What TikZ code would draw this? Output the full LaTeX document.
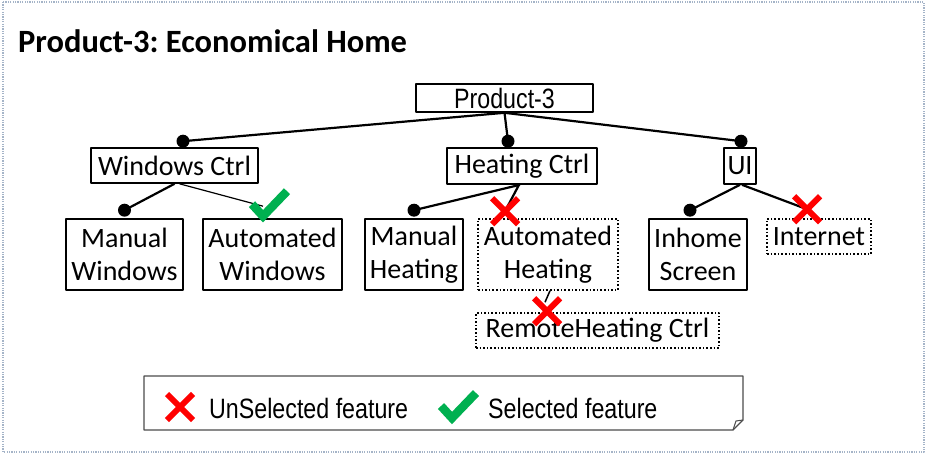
\documentclass[tikz,border=0pt]{standalone}
\usepackage{fontspec}
\setmainfont{Carlito}
\newfontfamily\narrowsf[FakeStretch=0.83]{Liberation Sans}
\frenchspacing
\definecolor{selgreen}{RGB}{0,176,80}
\definecolor{framegray}{RGB}{165,180,200}
\tikzset{
	feat/.style={draw, line width=1.6pt, inner sep=0pt, align=center, font=\fontsize{28}{33}\selectfont},
	optfeat/.style={feat, dotted, line width=1.5pt},
	edge/.style={line width=2.2pt},
	crossmark/.pic={\draw[red, line width=6pt] (-13,-13)--(13,13) (-13,13)--(13,-13);},
	checkmark/.pic={\draw[selgreen, line width=8.5pt, line join=miter] (-11,-12)--(0,0)--(24,-25);}
}
\begin{document}
\begin{tikzpicture}[x=1pt, y=-1pt, line join=round]
		\useasboundingbox (0,0) rectangle (936,454);
		\draw[framegray, line width=1.2pt, dash pattern=on 1.2pt off 1.2pt] (3,2) rectangle (924,452);
		\node[anchor=base west, inner sep=0pt, font=\fontsize{32.5}{38}\bfseries] (title) at (18,53) {Product-3: Economical Home};
		% features
		\node[feat, minimum width=177pt, minimum height=28pt, font=\fontsize{28}{33}\narrowsf] (p3) at (504.5,98) {Product-3};
		\node[feat, minimum width=167pt, minimum height=35pt] (win) at (174.5,165.5) {Windows Ctrl};
		\node[feat, minimum width=150pt, minimum height=36pt] (heat) at (522,166) {Heating Ctrl};
		\node[feat, minimum width=32pt, minimum height=36pt] (ui) at (740,166) {UI};
		\node[feat, minimum width=117pt, minimum height=71pt] (mw) at (124.5,254.5) {Manual\\Windows};
		\node[feat, minimum width=139pt, minimum height=71pt] (aw) at (272.5,254.5) {Automated\\Windows};
		\node[feat, minimum width=98pt, minimum height=71pt] (mh) at (414,254.5) {Manual\\Heating};
		\node[optfeat, minimum width=140pt, minimum height=71pt] (ah) at (548,254.5) {Automated\\Heating};
		\node[feat, minimum width=98pt, minimum height=71pt] (is) at (698,254.5) {Inhome\\Screen};
		\node[optfeat, minimum width=104pt, minimum height=35pt] (inet) at (819,236.5) {Internet};
		\node[optfeat, minimum width=243pt, minimum height=35pt] (rh) at (597.5,330.5) {RemoteHeating Ctrl};
		% mandatory links
		\draw[edge] (p3.south)--([xshift=8.5pt,yshift=6pt]win.north);
		\draw[edge] (p3.south)--([xshift=-14pt,yshift=6pt]heat.north);
		\draw[edge] (p3.south)--([xshift=1pt,yshift=6pt]ui.north);
		\draw[edge] (win.south)--([yshift=8pt]mw.north);
		\draw[edge] ([xshift=-2pt]heat.south)--([yshift=8pt]mh.north);
		\draw[edge] (ui.south)--([xshift=-8pt,yshift=8pt]is.north);
		\fill ([xshift=8.5pt,yshift=6pt]win.north) circle (6.5pt);
		\fill ([xshift=-14pt,yshift=6pt]heat.north) circle (6.5pt);
		\fill ([xshift=1pt,yshift=6pt]ui.north) circle (6.5pt);
		\fill ([yshift=8pt]mw.north) circle (6.5pt);
		\fill ([yshift=8pt]mh.north) circle (6.5pt);
		\fill ([xshift=-8pt,yshift=8pt]is.north) circle (6.5pt);
		% optional links
		\draw[line width=1.2pt] ([xshift=5pt]win.south)--([xshift=-9.5pt,yshift=12pt]aw.north);
		\draw[edge] ([xshift=-3pt]heat.south)--([xshift=-43pt,yshift=7pt]ah.north);
		\draw[edge] ([xshift=2pt]ui.south)--([xshift=-12pt,yshift=9pt]inet.north);
		\draw[line width=1.5pt] ([xshift=2pt]ah.south)--([xshift=-52.5pt,yshift=10pt]rh.north);
		\pic at ([xshift=-9.5pt,yshift=2pt]aw.north) {checkmark};
		\pic at ([xshift=-43pt,yshift=7pt]ah.north) {crossmark};
		\pic at ([xshift=-12pt,yshift=9pt]inet.north) {crossmark};
		\pic at ([xshift=-50.5pt,yshift=1pt]rh.north) {crossmark};
		% legend
		\draw[line width=1.3pt, black!70] (144,376)--(743,376)--(743,420)--(733,430)--(144,430)--cycle;
		\draw[line width=1pt, black!70] (743,420)--(736,421)--(733,430);
		\pic at (180,407) {crossmark};
		\node[anchor=west, inner sep=0pt, font=\fontsize{28}{33}\narrowsf] (unsel) at (209,408) {UnSelected feature};
		\pic at (452,418) {checkmark};
		\node[anchor=west, inner sep=0pt, font=\fontsize{28}{33}\narrowsf] (sel) at (488,408) {Selected feature};
	\end{tikzpicture}
\end{document}
